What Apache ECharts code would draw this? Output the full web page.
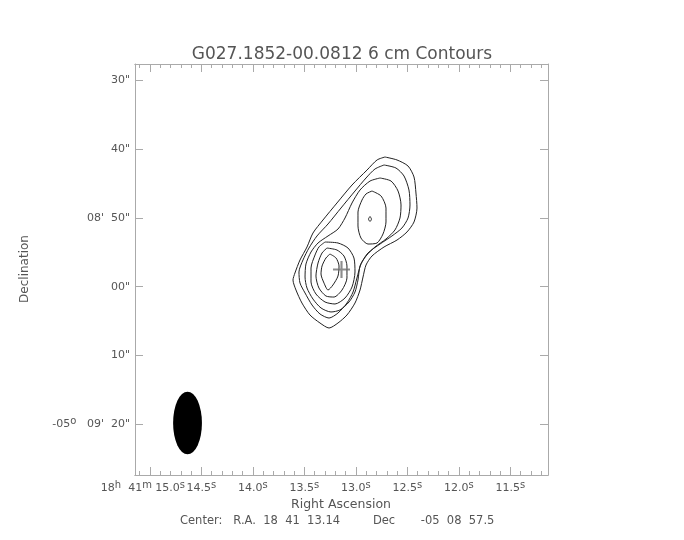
<!DOCTYPE html>
<html><head><meta charset="utf-8">
<script src="https://cdn.jsdelivr.net/npm/echarts@6/dist/echarts.min.js"></script>
<style>html,body{margin:0;padding:0;background:#fff}#c{width:684px;height:540px}</style>
</head><body><div id="c"></div>
<script>
const FONT = "'DejaVu Sans',sans-serif";
const TXT = '#555';
const AX = '#aaaaaa';

const titleText = 'G027.1852-00.0812 6 cm Contours';
const xTitle = 'Right Ascension';
const yTitle = 'Declination';
const centerText = 'Center:   R.A.  18  41  13.14         Dec       -05  08  57.5';

// RA in seconds of 18h41m, Dec in arcsec past -05d08'
const raRange = [11.135, 15.145];
const decRange = [27.65, 87.35];
const raFirstTick = [15.0];
const raFirstLabel = ['{n|18}{sup|h}{n|  41}{sup|m}{n| 15.0}{sup|s}{n|    }'];
const raMajorTicks = [14.5, 14.0, 13.5, 13.0, 12.5, 12.0, 11.5];
const raTickLabels = ['{n|14.5}{sup|s}', '{n|14.0}{sup|s}', '{n|13.5}{sup|s}', '{n|13.0}{sup|s}',
  '{n|12.5}{sup|s}', '{n|12.0}{sup|s}', '{n|11.5}{sup|s}'];
const raAllMajor = [15.0, 14.5, 14.0, 13.5, 13.0, 12.5, 12.0, 11.5];
const raMinorTicks = [11.2, 11.3, 11.4, 11.5, 11.6, 11.7, 11.8, 11.9, 12.0, 12.1, 12.2, 12.3, 12.4, 12.5,
  12.6, 12.7, 12.8, 12.9, 13.0, 13.1, 13.2, 13.3, 13.4, 13.5, 13.6, 13.7, 13.8, 13.9, 14.0, 14.1, 14.2,
  14.3, 14.4, 14.5, 14.6, 14.7, 14.8, 14.9, 15.0, 15.1];
const decTicks = [30, 40, 50, 60, 70, 80];
const decTickLabels = ['{n|30"}', '{n|40"}', "{n|08'  50\"}", '{n|00"}', '{n|10"}', "{n|-05}{sup|o}{n|   09'  20\"}"];

// contour polylines [RA s, Dec arcsec]
const contour1 = [[12.718,41.16],[12.601,41.59],[12.494,42.47],[12.436,44.06],[12.417,46.39],[12.407,48.57],[12.436,50.60],[12.504,52.05],[12.601,53.22],[12.727,54.23],[12.844,55.54],[12.902,56.85],[12.931,58.59],[12.960,60.48],[13.009,62.37],[13.087,64.11],[13.174,65.27],[13.261,66.00],[13.349,65.27],[13.446,64.11],[13.524,62.37],[13.582,60.48],[13.611,59.03],[13.592,58.01],[13.543,56.12],[13.475,54.23],[13.417,52.20],[13.320,50.31],[13.184,47.84],[13.038,45.23],[12.892,43.05],[12.795,41.59],[12.718,41.16]];
const contour2 = [[12.727,42.32],[12.611,42.76],[12.533,43.92],[12.485,45.95],[12.475,48.13],[12.494,50.02],[12.553,51.47],[12.650,52.63],[12.766,53.80],[12.883,55.10],[12.951,56.70],[12.990,58.74],[13.028,60.77],[13.087,62.37],[13.174,63.82],[13.261,64.55],[13.349,63.96],[13.426,62.66],[13.494,60.91],[13.543,59.46],[13.553,57.86],[13.514,56.12],[13.456,54.38],[13.378,52.63],[13.271,50.89],[13.145,48.57],[13.009,46.10],[12.902,44.21],[12.815,42.90],[12.727,42.32]];
const contour3 = [[12.766,44.21],[12.659,44.65],[12.591,46.10],[12.562,48.13],[12.572,50.02],[12.621,51.76],[12.708,53.07],[12.815,54.23],[12.902,55.54],[12.960,56.99],[12.980,59.03],[13.009,60.77],[13.067,62.22],[13.155,63.38],[13.242,63.67],[13.339,63.09],[13.417,61.79],[13.475,60.19],[13.494,58.59],[13.485,56.70],[13.436,54.96],[13.368,53.65],[13.271,52.63],[13.174,51.62],[13.106,50.02],[13.038,47.84],[12.960,45.95],[12.863,44.65],[12.766,44.21]];
const contour4South = [[13.300,53.51],[13.174,53.65],[13.077,54.38],[13.019,55.83],[13.009,57.86],[13.038,60.04],[13.106,61.64],[13.203,62.51],[13.300,62.22],[13.388,61.06],[13.436,59.32],[13.436,57.28],[13.397,55.39],[13.359,54.23],[13.300,53.51]];
const contour4North = [[12.844,46.10],[12.756,46.82],[12.708,48.57],[12.708,50.60],[12.737,52.34],[12.795,53.65],[12.883,53.80],[12.951,52.93],[12.980,51.18],[12.980,49.15],[12.941,47.41],[12.902,46.53],[12.844,46.10]];
const contour5South = [[13.281,54.38],[13.184,54.67],[13.116,55.54],[13.087,56.99],[13.087,58.74],[13.135,60.48],[13.213,61.50],[13.291,61.35],[13.359,60.19],[13.388,58.45],[13.368,56.56],[13.329,55.10],[13.281,54.38]];
const contour5North = [[12.863,49.80],[12.849,50.17],[12.863,50.53],[12.878,50.17],[12.863,49.80]];
const contour6 = [[13.252,55.25],[13.193,55.83],[13.164,56.99],[13.174,58.45],[13.223,59.75],[13.271,60.48],[13.310,59.46],[13.339,58.15],[13.329,56.99],[13.291,55.83],[13.252,55.25]];
const contours = [contour1, contour2, contour3, contour4South, contour4North, contour5South, contour5North, contour6];

const sourcePos = [13.14, 57.5];
const beam = [14.635, 79.8, 0.28, 9.1]; // centre RA, centre Dec, width (RA s), height (arcsec)

const rich = {
  n: { fontFamily: FONT, fontSize: 11, lineHeight: 16, color: TXT },
  sup: { fontFamily: FONT, fontSize: 10, lineHeight: 4, color: TXT, verticalAlign: 'top' }
};

function lookup(vals, labels) {
  return function (v) { const i = vals.findIndex(t => Math.abs(t - v) < 1e-6); return i >= 0 ? labels[i] : ''; };
}
function xAx(pos, len, ticks, labVals, labs) {
  return {
    type: 'value', position: pos, min: raRange[0], max: raRange[1], inverse: true,
    axisLine: { show: true, onZero: false, lineStyle: { color: AX, width: 1 } },
    axisTick: { show: true, inside: true, length: len, customValues: ticks, lineStyle: { color: AX, width: 1 } },
    axisLabel: labVals ? {
      show: true, customValues: labVals, margin: 5, hideOverlap: false,
      showMinLabel: true, showMaxLabel: true, rich: rich,
      fontFamily: FONT, fontSize: 11, color: TXT,
      formatter: lookup(labVals, labs)
    } : { show: false },
    splitLine: { show: false }
  };
}
function yAx(pos, labels) {
  return {
    type: 'value', position: pos, min: decRange[0], max: decRange[1], inverse: true,
    axisLine: { show: true, onZero: false, lineStyle: { color: AX, width: 1 } },
    axisTick: { show: true, inside: true, length: 8, customValues: decTicks, lineStyle: { color: AX, width: 1 } },
    axisLabel: labels ? {
      show: true, customValues: decTicks, margin: 5, hideOverlap: false,
      showMinLabel: true, showMaxLabel: true, rich: rich,
      fontFamily: FONT, fontSize: 11, color: TXT,
      formatter: lookup(decTicks, decTickLabels)
    } : { show: false },
    splitLine: { show: false }
  };
}

const series = contours.map(c => ({
  type: 'line', data: c, showSymbol: false, symbol: 'none', smooth: 0.25,
  lineStyle: { color: '#222', width: 1 }, silent: true, z: 3
}));
series.push({
  type: 'custom', data: [beam], z: 2, silent: true,
  renderItem: function (params, api) {
    const c = api.coord([api.value(0), api.value(1)]);
    const s = api.size([api.value(2), api.value(3)], [api.value(0), api.value(1)]);
    const rx = s[0] / 2, ry = s[1] / 2;
    return { type: 'circle', x: c[0], y: c[1], scaleX: 1, scaleY: ry / rx, shape: { cx: 0, cy: 0, r: rx }, style: { fill: '#000' } };
  }
});
series.push({
  type: 'scatter', data: [sourcePos], symbol: 'path://M7,0h2v16h-2z M0,7h16v2h-16z', symbolSize: 17,
  itemStyle: { color: '#707070' }, silent: true, z: 5
});

const chart = echarts.init(document.getElementById('c'), null, { renderer: 'canvas' });
chart.setOption({
  animation: false,
  backgroundColor: '#fff',
  title: { text: titleText, left: 'center', top: 41, textStyle: { fontFamily: FONT, fontSize: 17, fontWeight: 'normal', color: TXT } },
  grid: { left: 135, top: 64, width: 413, height: 411, containLabel: false, outerBoundsMode: 'none' },
  xAxis: [
    xAx('bottom', 4, raMinorTicks, raMajorTicks, raTickLabels),
    xAx('bottom', 8, raAllMajor, raFirstTick, raFirstLabel),
    xAx('top', 4, raMinorTicks, null, null),
    xAx('top', 8, raAllMajor, null, null)
  ],
  yAxis: [yAx('left', true), yAx('right', false)],
  graphic: [
    { type: 'text', x: 341, y: 505, style: { text: xTitle, fontFamily: FONT, fontSize: 12.5, fill: TXT, align: 'center', verticalAlign: 'middle' } },
    { type: 'text', x: 180, y: 521, style: { text: centerText, fontFamily: FONT, fontSize: 11.5, fill: TXT, align: 'left', verticalAlign: 'middle' } },
    { type: 'text', x: 25, y: 269, rotation: Math.PI / 2, style: { text: yTitle, fontFamily: FONT, fontSize: 12, fill: TXT, align: 'center', verticalAlign: 'middle' } }
  ],
  series: series
});
</script></body></html>
